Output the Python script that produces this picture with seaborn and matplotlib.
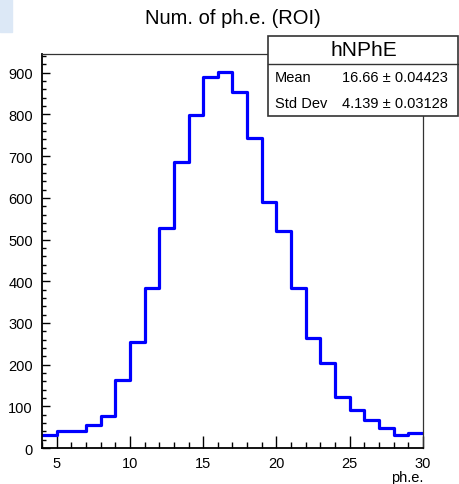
import numpy as np
import pandas as pd
import matplotlib
matplotlib.use("Agg")
import matplotlib.pyplot as plt
import seaborn as sns
from matplotlib.ticker import MultipleLocator
from matplotlib.patches import Rectangle

# bin edges 4..30, width 1 (counts)
bin_edges = list(range(4, 31))
counts = [32, 40, 40, 55, 76, 163, 255, 383, 528, 687, 799, 889, 901, 855,
          743, 590, 521, 383, 263, 203, 123, 91, 66, 48, 32, 36]
hist_name = "hNPhE"
title = "Num. of ph.e. (ROI)"
x_label = "ph.e."
stat_mean = "16.66 \u00b1 0.04423"
stat_std = "4.139 \u00b1 0.03128"

sns.set_style("ticks")
plt.rcParams["font.family"] = ["Liberation Sans", "DejaVu Sans"]
plt.rcParams["text.color"] = "black"
plt.rcParams["xtick.labelcolor"] = "black"
plt.rcParams["ytick.labelcolor"] = "black"

df = pd.DataFrame({"x": np.array(bin_edges[:-1]) + 0.5, "n": counts})

fig = plt.figure(figsize=(4.59, 4.85), dpi=100)
ax = fig.add_axes([0.0915, 0.0742, 0.830, 0.8124])

sns.histplot(data=df, x="x", weights="n", bins=bin_edges, element="step",
             fill=False, color="#0000ff", linewidth=2.3, ax=ax)

ax.set_xlim(4, 30)
ax.set_ylim(0, 945)
ax.set_xlabel("")
ax.set_ylabel("")

ax.xaxis.set_major_locator(MultipleLocator(5))
ax.xaxis.set_minor_locator(MultipleLocator(1))
ax.yaxis.set_major_locator(MultipleLocator(100))
ax.yaxis.set_minor_locator(MultipleLocator(20))
ax.tick_params(axis="x", which="major", direction="in", length=8.5, width=1.0,
               labelsize=10.5, pad=6, color="black", labelcolor="black")
ax.tick_params(axis="x", which="minor", direction="in", length=4.3, width=1.0, color="black")
ax.tick_params(axis="y", which="major", direction="in", length=5.8, width=1.0,
               labelsize=10.5, pad=6.5, color="black", labelcolor="black")
ax.tick_params(axis="y", which="minor", direction="in", length=2.9, width=1.0, color="black")

for s in ["left", "bottom"]:
    ax.spines[s].set_linewidth(1.3)
    ax.spines[s].set_color("black")
for s in ["top", "right"]:
    ax.spines[s].set_visible(True)
    ax.spines[s].set_linewidth(0.9)
    ax.spines[s].set_color("#333333")

fig.text(0.922, 1 - 478 / 485, x_label, ha="right", va="center", fontsize=10.5, color="black")
fig.text(233 / 459, 1 - 19 / 485, title, ha="center", va="center", fontsize=14.5, color="black")

# canvas corner patch
fig.patches.append(Rectangle((0, 1 - 33 / 485), 12 / 459, 33 / 485,
                             transform=fig.transFigure, color="#dce8f6", zorder=0))

# stats box
bx0, bx1 = 268 / 459, 1.0
by0, by1 = 1 - 117 / 485, 1 - 37 / 485
ydiv = 1 - 65 / 485
fig.patches.append(Rectangle((bx0, by0), bx1 - bx0 - 0.002, by1 - by0,
                             transform=fig.transFigure, facecolor="white",
                             edgecolor="#333333", linewidth=1.2, zorder=5))
fig.lines.append(plt.Line2D([bx0, bx1], [ydiv, ydiv], transform=fig.transFigure,
                            color="#333333", linewidth=1.0, zorder=6))
fig.text((bx0 + bx1) / 2, 1 - 51 / 485, hist_name, ha="center", va="center",
         fontsize=15, zorder=7, color="black")
fig.text(275 / 459, 1 - 78 / 485, "Mean", ha="left", va="center", fontsize=10.5, zorder=7, color="black")
fig.text(448 / 459, 1 - 78 / 485, stat_mean, ha="right", va="center", fontsize=10.5, zorder=7, color="black")
fig.text(275 / 459, 1 - 104 / 485, "Std Dev", ha="left", va="center", fontsize=10.5, zorder=7, color="black")
fig.text(448 / 459, 1 - 104 / 485, stat_std, ha="right", va="center", fontsize=10.5, zorder=7, color="black")

fig.savefig("out.png", dpi=100)
